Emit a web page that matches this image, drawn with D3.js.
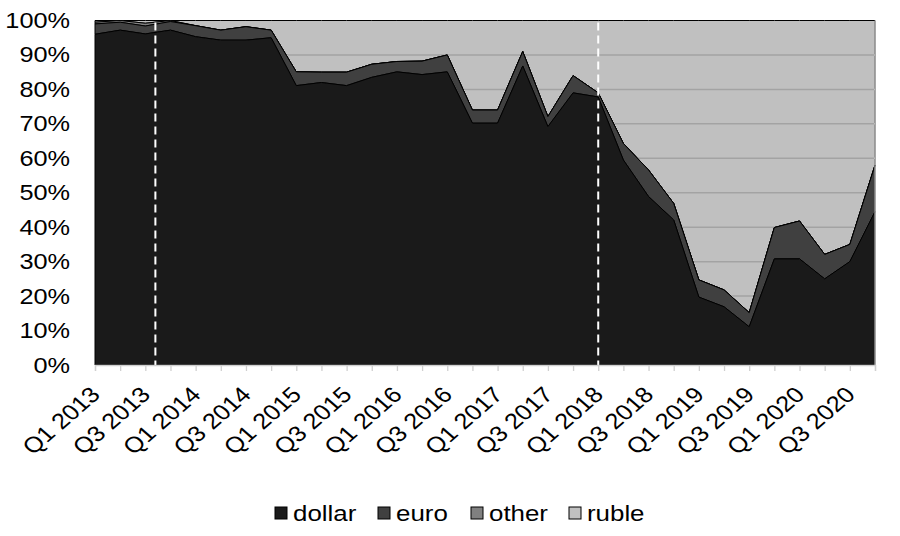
<!DOCTYPE html>
<html>
<head>
<meta charset="utf-8">
<script src="https://cdn.jsdelivr.net/npm/d3@7/dist/d3.min.js"></script>
<style>
  html, body { margin: 0; padding: 0; background: #fff; }
  svg { display: block; font-family: "Liberation Sans", Arial, sans-serif; }
</style>
</head>
<body>
<svg id="chart" width="900" height="536"></svg>
<script>
const quarters = [
  "Q1 2013","Q2 2013","Q3 2013","Q4 2013",
  "Q1 2014","Q2 2014","Q3 2014","Q4 2014",
  "Q1 2015","Q2 2015","Q3 2015","Q4 2015",
  "Q1 2016","Q2 2016","Q3 2016","Q4 2016",
  "Q1 2017","Q2 2017","Q3 2017","Q4 2017",
  "Q1 2018","Q2 2018","Q3 2018","Q4 2018",
  "Q1 2019","Q2 2019","Q3 2019","Q4 2019",
  "Q1 2020","Q2 2020","Q3 2020","Q4 2020"
];
const dollar = [96,97.2,96.1,97.2, 95.3,94.3,94.3,95, 81.1,82,81.1,83.5, 85.1,84.3,85.1,70.2, 70.2,86.8,69.2,79, 77.8,59.5,48.9,42.1, 19.7,16.9,11.1,30.8, 30.8,25,30,44.5];
const euro   = [3,2.3,2.3,2.5, 3.2,2.9,3.9,2.2, 4,3,3.9,3.8, 3,3.9,4.9,3.8, 3.8,4.2,2.9,5, 1.2,4.8,7.7,4.8, 5,4.9,4.1,9.1, 11,7.1,5,13.5];
const other  = [0.5,0.5,0.8,0.3, 0,0,0,0, 0,0,0,0, 0,0,0,0, 0,0,0,0, 0,0,0,0, 0,0,0,0, 0,0,0,0];
const ruble  = quarters.map((q, i) => 100 - dollar[i] - euro[i] - other[i]);
const seriesNames = ["dollar", "euro", "other", "ruble"];
const seriesColors = ["#1a1a1a", "#404040", "#808080", "#c0c0c0"];
const yTicks = [0,10,20,30,40,50,60,70,80,90,100];
const markerQuarters = [2.4, 20];

const svg = d3.select("#chart");
const x = d3.scaleLinear().domain([0, quarters.length - 1]).range([95, 875]);
const y = d3.scaleLinear().domain([0, 100]).range([365, 20.5]);
const SX = 1.15; // horizontal stretch of the reference's text

const rows = quarters.map((q, i) => ({ i, dollar: dollar[i], euro: euro[i], other: other[i], ruble: ruble[i] }));
const stacked = d3.stack().keys(seriesNames)(rows);

const area = d3.area()
  .x(d => x(d.data.i))
  .y0(d => y(d[0]))
  .y1(d => y(d[1]));

// ruble (top layer) first
svg.append("path")
  .datum(stacked[3])
  .attr("d", area)
  .attr("fill", seriesColors[3])
  .attr("stroke", "#000")
  .attr("stroke-width", 1);

// gridlines
svg.append("g")
  .selectAll("line")
  .data(yTicks.filter(t => t > 0 && t < 100))
  .join("line")
  .attr("x1", x(0)).attr("x2", x(quarters.length - 1))
  .attr("y1", d => y(d)).attr("y2", d => y(d))
  .attr("stroke", "#a3a3a3")
  .attr("stroke-width", 1.5);

// other series on top
[2, 1, 0].forEach(k => {
  svg.append("path")
    .datum(stacked[k])
    .attr("d", area)
    .attr("fill", seriesColors[k])
    .attr("stroke", "#000")
    .attr("stroke-width", 1);
});

// right border
svg.append("line")
  .attr("x1", x(quarters.length - 1)).attr("x2", x(quarters.length - 1))
  .attr("y1", y(100)).attr("y2", y(0))
  .attr("stroke", "#d0d0d0").attr("stroke-width", 1);

// dashed markers
svg.append("g")
  .selectAll("line")
  .data(markerQuarters)
  .join("line")
  .attr("x1", d => x(d)).attr("x2", d => x(d))
  .attr("y1", y(100) + 2).attr("y2", y(0))
  .attr("stroke", "#ffffff")
  .attr("stroke-width", 2)
  .attr("stroke-dasharray", "8,5");

// x axis
const xAxis = d3.axisBottom(x)
  .tickValues(d3.range(quarters.length))
  .tickSize(6)
  .tickFormat(i => i % 2 === 0 ? quarters[i] : "");
const gx = svg.append("g").attr("transform", `translate(0,${y(0)})`).call(xAxis);
gx.select(".domain").attr("stroke", "#d0d0d0").attr("stroke-width", 1.3);
gx.selectAll(".tick line").attr("stroke", "#d0d0d0").attr("stroke-width", 1.3);
gx.selectAll(".tick text")
  .attr("font-size", 22)
  .attr("fill", "#000")
  .attr("text-anchor", "end")
  .attr("y", 0)
  .attr("dy", 0)
  .attr("transform", `translate(6,31) scale(${SX},1) rotate(-45)`);

// y axis labels
const yAxis = d3.axisLeft(y).tickValues(yTicks).tickSize(0).tickPadding(0).tickFormat(d => d + "%");
const gy = svg.append("g").attr("transform", `translate(${x(0)},0)`).call(yAxis);
gy.select(".domain").remove();
gy.selectAll(".tick text")
  .attr("font-size", 22).attr("fill", "#000")
  .attr("x", 0)
  .attr("transform", `translate(-25,0) scale(${SX},1)`);

// legend
const legendX = [275, 378, 471, 569];
const lg = svg.append("g").selectAll("g").data(seriesNames).join("g")
  .attr("transform", (d, i) => `translate(${legendX[i]},513)`);
lg.append("rect")
  .attr("x", 0).attr("y", -6).attr("width", 12).attr("height", 12)
  .attr("fill", (d, i) => seriesColors[i])
  .attr("stroke", "#000").attr("stroke-width", 1);
lg.append("text")
  .attr("x", 0).attr("y", 0).attr("dy", "0.35em")
  .attr("font-size", 22.5).attr("fill", "#000")
  .attr("transform", `translate(18,0) scale(${SX},1)`)
  .text(d => d);
</script>
</body>
</html>
